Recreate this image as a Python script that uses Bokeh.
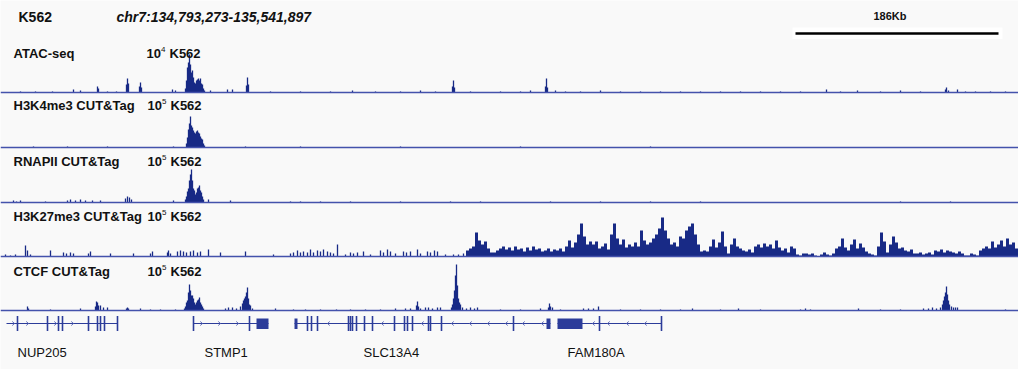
from bokeh.plotting import figure
from bokeh.models import Range1d
from bokeh.embed import file_html
from bokeh.resources import INLINE
from bokeh.core.properties import value
import numpy as np

# ---------------- data (genome bins, 1 bin ~ 0.74 kb across chr7:134,793,273-135,541,897) -------------
cell_line = "K562"
locus = "chr7:134,793,273-135,541,897"
scale_label = "186Kb"
scale_start, scale_end = 795, 998

track_names = ["ATAC-seq", "H3K4me3 CUT&Tag", "RNAPII CUT&Tag", "H3K27me3 CUT&Tag", "CTCF CUT&Tag"]
track_exponent = ["4", "5", "5", "5", "5"]

atac_pos = [20, 35, 52, 73, 80, 97, 98, 107, 116, 126, 127, 128, 139, 140, 141, 172, 175,
            185, 186, 187, 188, 189, 190, 191, 192, 193, 194, 195, 196, 197, 198, 199, 200, 201, 202, 203, 204,
            210, 227, 232, 246, 247, 248, 270, 300, 330, 352, 375, 400, 420, 435, 452, 453, 454, 470, 500,
            520, 530, 545, 546, 547, 555, 565, 580, 600, 620, 640, 660, 680, 700, 720, 740, 760, 780, 800,
            826, 840, 857, 880, 900, 920, 945, 946, 948, 957, 965, 975, 990, 1005]
atac_val = [1, 1, 1, 3, 2, 6, 4, 1, 1, 8, 14, 9, 6, 10, 5, 3, 2,
            4, 12, 25, 30, 38, 28, 20, 22, 15, 10, 9, 12, 13, 14, 12, 14, 9, 8, 4, 2,
            2, 3, 3, 7, 15, 8, 1, 1, 1, 2, 1, 1, 2, 1, 6, 12, 5, 1, 1,
            1, 2, 6, 14, 5, 2, 1, 1, 2, 1, 1, 1, 1, 1, 1, 1, 1, 1, 1,
            3, 1, 2, 1, 2, 1, 3, 5, 2, 3, 1, 1, 1, 1]

k4_pos = [33, 67, 107, 173, 186, 187, 188, 189, 190, 191, 192, 193, 194, 195, 196, 197, 198, 199,
          200, 201, 202, 203, 204, 245, 300, 400, 520, 650]
k4_val = [1, 1, 1, 1, 4, 10, 18, 24, 31, 22, 20, 17, 15, 14, 16, 17, 15, 14,
          11, 9, 8, 4, 2, 1, 1, 1, 1, 1]

pol2_pos = [13, 16, 20, 45, 67, 70, 75, 80, 85, 92, 100, 125, 127, 129, 131, 173,
            185, 186, 187, 188, 189, 190, 191, 192, 193, 194, 195, 196, 197, 198, 199, 200, 201, 202, 203,
            208, 230, 290, 300, 320, 350, 400, 450, 480, 550, 600, 650, 700, 900, 950]
pol2_val = [2, 1, 2, 1, 2, 3, 2, 3, 2, 2, 2, 4, 6, 5, 3, 2,
            3, 6, 11, 14, 22, 28, 33, 22, 14, 12, 8, 10, 14, 15, 17, 12, 10, 6, 3,
            3, 2, 1, 1, 1, 1, 1, 1, 1, 1, 1, 1, 1, 1, 1]

k27_pos = [5, 10, 15, 25, 27, 30, 50, 63, 66, 70, 73, 88, 90, 110, 133, 150, 152, 167, 168, 170,
           177, 180, 183, 186, 190, 193, 197, 200, 208, 220, 245, 273, 290, 293, 297, 300, 303, 307,
           310, 313, 317, 320, 323, 327, 330, 333, 337, 345, 350, 353, 357, 363, 370, 380, 383, 387,
           390, 395, 403, 406, 410, 417, 420, 427, 430, 434, 437, 445, 453, 458, 463]
k27_val = [2, 1, 2, 11, 6, 2, 6, 4, 3, 4, 3, 3, 5, 3, 3, 3, 5, 4, 6, 3,
           5, 6, 5, 4, 5, 6, 4, 5, 7, 4, 5, 2, 3, 4, 6, 4, 5, 4,
           7, 4, 6, 5, 7, 5, 4, 3, 12, 2, 4, 3, 4, 5, 2, 6, 4, 7,
           5, 3, 5, 4, 5, 7, 3, 5, 4, 6, 5, 2, 2, 2, 3]
# dense domain: 3-bin windows starting at bin 467
k27_domain_start = 467
k27_domain_step = 3
k27_domain_val = [6, 8, 10, 24, 16, 12, 15, 8, 4, 4,
                  6, 8, 10, 7, 9, 6, 10, 7, 8, 5,
                  9, 6, 10, 7, 8, 5, 6, 8, 5, 7,
                  6, 8, 5, 10, 16, 9, 14, 22, 33, 20,
                  12, 15, 12, 15, 8, 10, 13, 7, 22, 33,
                  18, 12, 17, 9, 12, 10, 14, 10, 26, 16,
                  12, 14, 18, 22, 28, 39, 26, 18, 12, 14,
                  10, 20, 18, 26, 30, 33, 22, 12, 5, 6,
                  5, 10, 17, 9, 14, 25, 10, 3, 12, 18,
                  10, 8, 6, 5, 7, 4, 10, 12, 9, 13,
                  10, 12, 8, 16, 9, 6, 8, 4, 10, 8,
                  2, 1, 3, 3, 2, 3, 1, 0, 2, 4,
                  2, 1, 3, 8, 10, 18, 9, 6, 12, 17,
                  8, 13, 9, 5, 3, 2, 1, 10, 24, 15,
                  4, 12, 20, 14, 8, 9, 6, 5, 7, 3,
                  3, 4, 2, 3, 4, 2, 6, 5, 7, 4,
                  6, 5, 4, 3, 5, 3, 1, 1, 3, 2,
                  1, 6, 8, 10, 8, 15, 9, 12, 16, 10,
                  18, 12, 14, 8]

ctcf_pos = [27, 28, 50, 80, 95, 96, 97, 98, 100, 103, 107, 126, 127, 128, 140, 150, 160, 175,
            184, 185, 186, 187, 188, 189, 190, 191, 192, 193, 194, 195, 196, 197, 198, 199, 200, 201, 202, 203,
            225, 228, 232, 236, 240, 242, 243, 244, 245, 246, 247, 248, 249, 250, 252, 275, 293, 305, 320,
            336, 350, 365, 380, 395, 405, 410, 416, 417, 418, 420, 425, 428, 432, 437, 440,
            451, 452, 453, 454, 455, 456, 457, 458, 459, 460, 462, 466, 470, 474, 477, 500, 520, 540,
            548, 549, 550, 552, 560, 583, 588, 593, 598, 620, 640, 660, 680, 692, 720, 738, 760, 800,
            805, 810, 858, 880, 900, 923, 928, 932, 936, 940, 942, 943, 944, 945, 946, 947, 948, 949,
            951, 953, 955, 957, 1005]
ctcf_val = [4, 2, 1, 2, 4, 9, 8, 5, 5, 3, 3, 2, 3, 2, 2, 1, 1, 1,
            2, 4, 8, 10, 18, 26, 20, 15, 15, 12, 8, 6, 8, 10, 11, 13, 8, 6, 4, 2,
            2, 3, 3, 2, 4, 7, 10, 12, 14, 18, 23, 12, 6, 5, 2, 2, 1, 1, 1,
            1, 1, 1, 1, 2, 2, 2, 5, 9, 4, 2, 3, 3, 2, 3, 3,
            3, 6, 12, 20, 35, 46, 25, 12, 8, 6, 3, 2, 3, 2, 3, 1, 1, 2,
            3, 7, 4, 3, 1, 2, 2, 2, 4, 1, 1, 1, 1, 2, 1, 2, 1, 1,
            2, 1, 2, 1, 1, 2, 2, 3, 2, 3, 6, 10, 14, 18, 24, 16, 10, 6,
            4, 3, 3, 3, 1]

genes = ["NUP205", "STMP1", "SLC13A4", "FAM180A"]
gene_start = [6, 193, 294, 557]
gene_end = [117, 268, 550, 661]
exon_pos = [17, 47, 58, 62, 88, 97, 100, 104, 117,
            193, 249,
            307, 311, 317, 348, 350, 352, 356, 364, 372, 394, 404, 407, 412, 428, 430, 441, 513,
            599, 661]
utr_start = [256, 294, 546, 557]
utr_end = [268, 297, 550, 582]
arrow_pos = [13, 27, 55, 72, 201, 219, 237,
             328, 382, 422, 452, 470, 488, 506, 523, 542,
             593, 608, 627, 645]
arrow_dir = [1, 1, 1, 1, 1, 1, 1,
             -1, -1, -1, -1, -1, -1, -1, -1, -1,
             -1, -1, -1, -1]

# ---------------- layout / styles -------------
BG = "#f9f9f9"
NAVY = "#182a86"
BASE = "#4452ac"
FONT = value("Liberation Sans")
W, H = 1018, 369
baselines = [92, 147, 202, 256, 310]
label_y = [52.5, 105, 161, 216, 271]
exp_x = [146, 147, 147, 147, 147]

p = figure(width=W, height=H, x_range=Range1d(0, W), y_range=Range1d(H, 0),
           output_backend="svg", toolbar_location=None, min_border=0,
           x_axis_type=None, y_axis_type=None)
p.grid.visible = False
p.outline_line_color = None
p.background_fill_color = BG
p.border_fill_color = BG

names = ["atac", "k4", "pol2", "k27", "ctcf"]
for nm, b in zip(names, baselines):
    p.extra_y_ranges[nm] = Range1d(start=b - H, end=b)

sparse = [(atac_pos, atac_val), (k4_pos, k4_val), (pol2_pos, pol2_val), (k27_pos, k27_val), (ctcf_pos, ctcf_val)]
for nm, (xs, vs) in zip(names, sparse):
    p.vbar(x=xs, top=vs, bottom=0, width=1.3, fill_color=NAVY, line_color=None, y_range_name=nm)

dom_x = k27_domain_start + k27_domain_step * np.arange(len(k27_domain_val))
p.vbar(x=dom_x, top=k27_domain_val, bottom=0, width=k27_domain_step, fill_color=NAVY,
       line_color=None, y_range_name="k27")

for nm in names:
    p.segment(x0=[0], y0=[0], x1=[W], y1=[0], line_color=BASE, line_width=1.6, y_range_name=nm)

# track labels
p.text(x=[13] * 5, y=label_y, text=track_names, text_font=FONT, text_font_size="13px",
       text_font_style="bold", text_baseline="middle", text_color="#111111")
p.text(x=exp_x, y=label_y, text=["10"] * 5, text_font=FONT, text_font_size="13px",
       text_font_style="bold", text_baseline="middle", text_color="#111111")
p.text(x=[x + 14.5 for x in exp_x], y=[y - 4 for y in label_y], text=track_exponent, text_font=FONT,
       text_font_size="8px", text_baseline="middle", text_color="#111111")
p.text(x=[x + 23 for x in exp_x], y=label_y, text=[cell_line] * 5, text_font=FONT, text_font_size="13px",
       text_font_style="bold", text_baseline="middle", text_color="#111111")

# header
p.text(x=[18], y=[16], text=[cell_line], text_font=FONT, text_font_size="14px", text_font_style="bold",
       text_baseline="middle", text_color="#111111")
p.text(x=[116], y=[16], text=[locus], text_font=FONT, text_font_size="14px", text_font_style="bold italic",
       text_baseline="middle", text_color="#111111")
p.quad(left=[792], right=[1002], top=[27], bottom=[38.5], fill_color="white", line_color=None)
p.segment(x0=[scale_start], y0=[33], x1=[scale_end], y1=[33], line_color="black", line_width=2.5)
p.text(x=[(scale_start + scale_end) / 2 - 7], y=[15], text=[scale_label], text_font=FONT, text_font_size="11px",
       text_font_style="bold", text_align="center", text_baseline="middle", text_color="#111111")

# gene track
GENE = "#2c3c9a"
p.segment(x0=gene_start, y0=[323] * len(genes), x1=gene_end, y1=[323] * len(genes), line_color=GENE, line_width=1.2)
p.segment(x0=exon_pos, y0=[315.5] * len(exon_pos), x1=exon_pos, y1=[330.5] * len(exon_pos),
          line_color=GENE, line_width=1.6)
p.quad(left=utr_start, right=utr_end, top=[318] * len(utr_start), bottom=[328.5] * len(utr_start),
       fill_color=GENE, line_color=None)
axs = [[x - 1.2 * d, x + 0.9 * d, x - 1.2 * d] for x, d in zip(arrow_pos, arrow_dir)]
ays = [[321, 323, 325] for _ in arrow_pos]
p.multi_line(xs=axs, ys=ays, line_color="#5a66b6", line_width=1)
p.text(x=[17, 204, 363, 567], y=[352] * 4, text=genes, text_font=FONT, text_font_size="13px",
       text_baseline="middle", text_color="#111111")

open("out.html", "w").write(file_html(p, INLINE))
